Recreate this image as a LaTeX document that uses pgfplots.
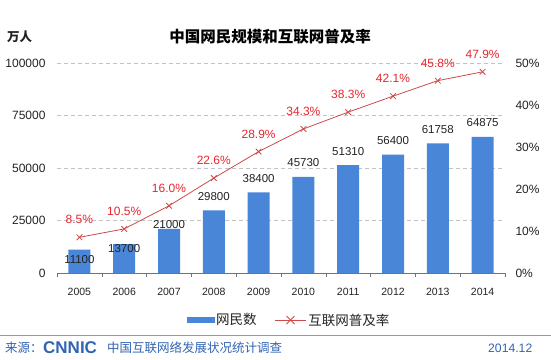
\documentclass[border=0pt]{standalone}
\usepackage{fontspec}
\setmainfont{Liberation Sans}
\newfontfamily\cjk{Noto Sans CJK SC}
\usepackage{pgfplots}
\pgfplotsset{compat=1.18}
\definecolor{barblue}{RGB}{74,134,216}
\definecolor{linered}{RGB}{205,75,75}
\definecolor{labelred}{RGB}{232,38,48}
\definecolor{footblue}{RGB}{50,100,178}
\definecolor{footline}{RGB}{110,160,225}
\definecolor{gridgray}{RGB}{195,195,195}
\definecolor{txt}{RGB}{35,35,35}
\begin{document}
\begin{tikzpicture}[x=1pt,y=1pt]
\fill[white] (0,0) rectangle (551,359);
\useasboundingbox (0,0) rectangle (551,359);
\begin{axis}[
  at={(57pt,86pt)}, anchor=south west,
  scale only axis, width=448pt, height=210pt,
  xmin=-0.5, xmax=9.5, ymin=0, ymax=100000,
  /pgf/number format/assume math mode=true,
  axis x line*=bottom, axis y line*=left,
  y axis line style={draw=none},
  x axis line style={draw=black!55, line width=0.6pt},
  xtick={0,...,9},
  xticklabels={2005,2006,2007,2008,2009,2010,2011,2012,2013,2014},
  minor xtick={-0.5,0.5,...,9.5},
  major tick length=0pt, minor tick length=4pt, tick align=outside,
  minor tick style={draw=black!55, line width=0.6pt},
  ytick={0,25000,50000,75000,100000},
  scaled y ticks=false,
  yticklabel style={/pgf/number format/fixed, /pgf/number format/1000 sep={}, font=\fontsize{12}{12}\selectfont, text=txt, xshift=-8pt},
  xticklabel style={font=\fontsize{10.5}{10.5}\selectfont, text=txt, yshift=-12pt},
  ymajorgrids, grid style={gridgray, dash pattern=on 4pt off 3pt, line width=0.6pt},
  clip=false,
]
\addplot[ybar, bar width=22pt, fill=barblue, draw=none] coordinates {
 (0,11100) (1,13700) (2,21000) (3,29800) (4,38400)
 (5,45730) (6,51310) (7,56400) (8,61758) (9,64875)};
\addplot[draw=none, no markers, point meta=explicit symbolic,
  nodes near coords={\pgfplotspointmeta},
  nodes near coords style={anchor=center, font=\fontsize{11.5}{11.5}\selectfont, text=txt}]
  table[meta=label] {
x y label
0 6190 11100
1 11430 13700
2 22860 21000
3 36467 29800
4 45067 38400
5 52397 45730
6 57977 51310
7 63067 56400
8 68425 61758
9 71542 64875
};
\end{axis}
\begin{axis}[
  at={(57pt,86pt)}, anchor=south west,
  scale only axis, width=448pt, height=210pt,
  xmin=-0.5, xmax=9.5, ymin=0, ymax=50,
  /pgf/number format/assume math mode=true,
  axis x line=none, axis y line*=right,
  y axis line style={draw=none},
  ytick={0,10,20,30,40,50},
  major tick length=0pt,
  yticklabel={\pgfmathprintnumber{\tick}\%},
  yticklabel style={font=\fontsize{12}{12}\selectfont, text=txt, xshift=7pt},
  clip=false,
  legend style={at={(0.518,-0.224)}, anchor=center, draw=none, fill=none,
    font=\cjk\fontsize{13.5}{14}\selectfont, text=txt,
    /tikz/every even column/.append style={column sep=16pt}},
  legend columns=2,
]
\addlegendimage{legend image code/.code={\fill[barblue] (0pt,-2.5pt) rectangle (27pt,2.5pt);}}
\addlegendentry{网民数}
\addplot[color=linered, line width=0.8pt, mark=x, mark size=4pt,
  mark options={line width=0.8pt},
  nodes near coords={\pgfmathprintnumber[fixed,fixed zerofill,precision=1]{\pgfplotspointmeta}\%},
  nodes near coords style={anchor=center, yshift=17.5pt, text=labelred, font=\fontsize{12}{12}\selectfont},
  legend image code/.code={\draw[linered, line width=0.8pt] (0pt,0pt) -- (31pt,0pt);
    \draw[linered, line width=0.8pt] (11.5pt,-4pt) -- (19.5pt,4pt) (11.5pt,4pt) -- (19.5pt,-4pt);}]
  coordinates {(0,8.5) (1,10.5) (2,16.0) (3,22.6) (4,28.9) (5,34.3) (6,38.3) (7,42.1) (8,45.8) (9,47.9)};
\addlegendentry{互联网普及率}
\end{axis}
\node[font=\cjk\bfseries\fontsize{15.5}{16}\selectfont, text=black] at (270,322) {中国网民规模和互联网普及率};
\node[font=\cjk\bfseries\fontsize{12.5}{13}\selectfont, text=txt, anchor=west, inner sep=0pt] at (7,322) {万人};
\draw[footline, line width=1pt] (0,24) -- (551,24);
\node[font=\cjk\fontsize{12.5}{13}\selectfont, text=footblue, anchor=west, inner sep=0pt] at (5,11) {来源：};
\node[font=\bfseries\fontsize{17}{17}\selectfont, text=footblue, anchor=west, inner sep=0pt] at (43,11) {CNNIC};
\node[font=\cjk\fontsize{12.5}{13}\selectfont, text=footblue, anchor=west, inner sep=0pt] at (107,11) {中国互联网络发展状况统计调查};
\node[font=\fontsize{12.2}{13}\selectfont, text=footblue, anchor=west, inner sep=0pt] at (488,11) {2014.12};
\end{tikzpicture}
\end{document}
